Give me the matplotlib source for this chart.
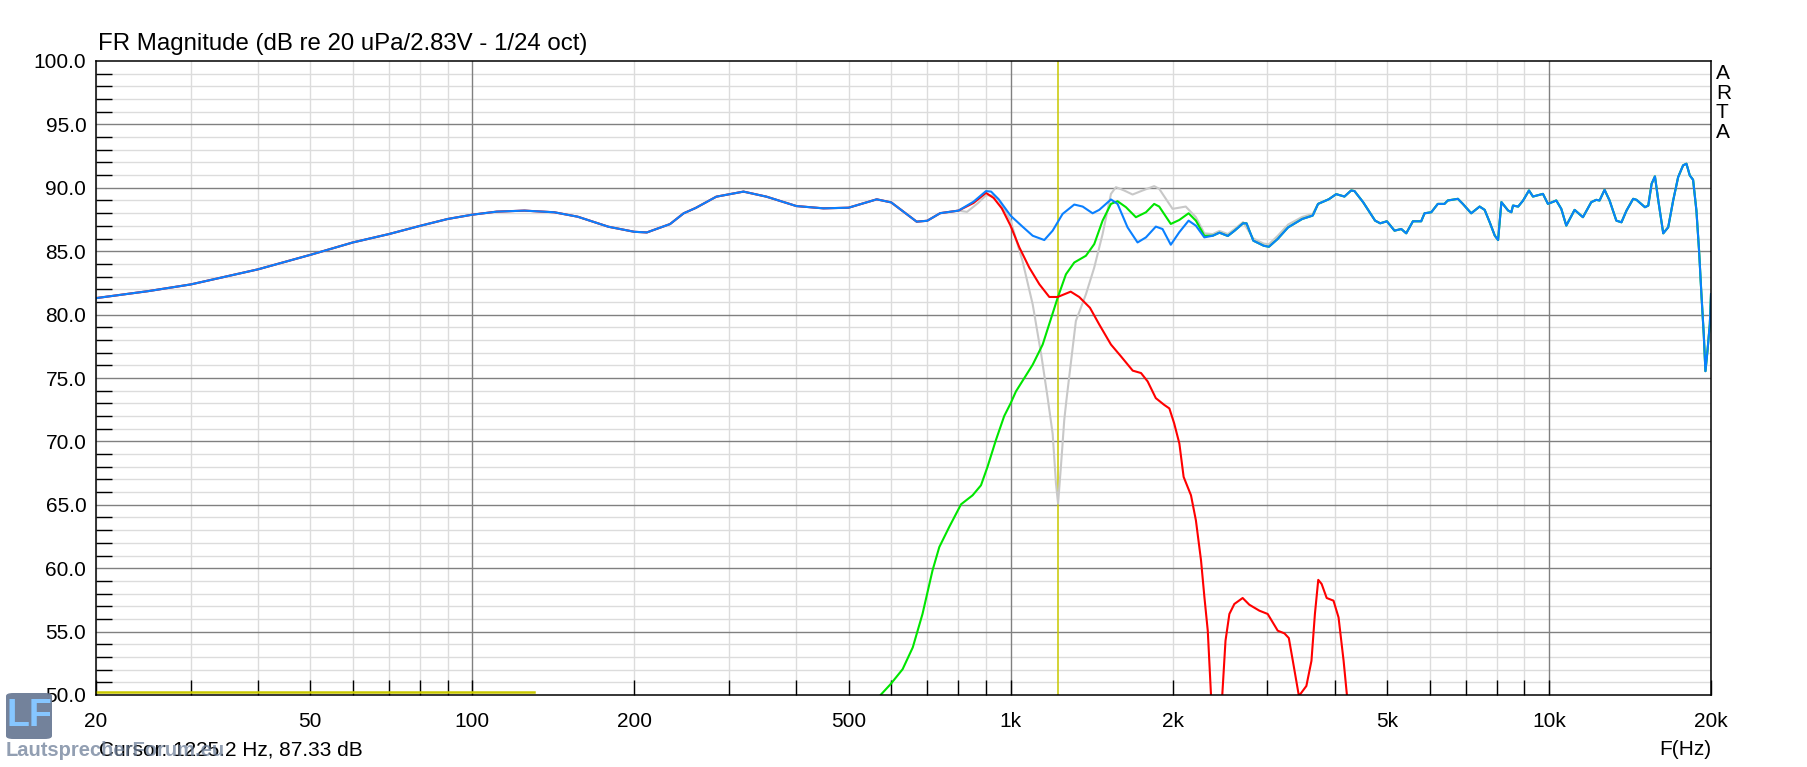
import matplotlib
matplotlib.use("Agg")
import matplotlib.pyplot as plt
from matplotlib.patches import FancyBboxPatch

plt.rcParams['font.family'] = ['Liberation Sans', 'DejaVu Sans']

#============================DATA===================================
# shared low end (woofer alone == sum)
lf_freq = [20, 25, 30, 40, 50, 60, 70, 80, 90, 100, 111, 125, 142, 157, 179, 200,
           211, 233, 247, 260, 284, 319, 352, 400, 449, 500, 564, 600, 669, 700, 740, 800]
lf_db = [81.3, 81.85, 82.38, 83.57, 84.71, 85.69, 86.35, 87.0, 87.54, 87.88, 88.12, 88.2,
         88.07, 87.72, 86.93, 86.53, 86.48, 87.14, 87.99, 88.41, 89.3, 89.7, 89.3, 88.56,
         88.38, 88.43, 89.09, 88.85, 87.33, 87.4, 88.0, 88.2]

# sum (blue) around crossover
sum_freq = [853, 900, 920, 950, 1000, 1052, 1099, 1155, 1197, 1249, 1313, 1361, 1420, 1461,
            1536, 1580, 1649, 1721, 1784, 1861, 1915, 1984, 2057, 2141, 2209, 2290]
sum_db = [88.9, 89.74, 89.7, 89.1, 87.8, 86.94, 86.22, 85.88, 86.62, 87.94, 88.68, 88.52,
          87.99, 88.26, 89.08, 88.73, 86.88, 85.69, 86.09, 86.94, 86.75, 85.51, 86.49,
          87.41, 87.01, 86.09]

# shared top end (tweeter alone == sum)
hf_freq = [2374, 2443, 2532, 2607, 2703, 2743, 2824, 2952, 3019, 3133, 3277, 3480, 3641,
           3725, 3901, 4025, 4170, 4291, 4353, 4516, 4754, 4859, 5000, 5166, 5318, 5431,
           5589, 5790, 5874, 6045, 6216, 6396, 6488, 6774, 6919, 7171, 7434, 7596, 7762,
           7932, 8045, 8160, 8396, 8515, 8575, 8767, 8954, 9181, 9339, 9747, 9957, 10319,
           10542, 10770, 11160, 11564, 11984, 12243, 12418, 12686, 12960, 13342, 13636,
           13936, 14337, 14544, 15077, 15294, 15514, 15736, 15963, 16305, 16655, 17012,
           17377, 17750, 18005, 18263, 18525, 18790, 19005, 19196, 19390, 19530, 19699,
           19899, 20000]
hf_db = [86.22, 86.46, 86.2, 86.62, 87.2, 87.2, 85.83, 85.43, 85.35, 85.96, 86.88, 87.54,
         87.81, 88.73, 89.1, 89.5, 89.31, 89.79, 89.74, 88.87, 87.41, 87.2, 87.36, 86.62,
         86.75, 86.41, 87.36, 87.36, 87.99, 88.07, 88.73, 88.73, 89.0, 89.13, 88.73, 87.99,
         88.52, 88.26, 87.28, 86.23, 85.88, 88.87, 88.21, 88.07, 88.6, 88.52, 89.0, 89.79,
         89.31, 89.52, 88.73, 89.0, 88.34, 87.02, 88.26, 87.68, 88.87, 89.05, 89.0, 89.84,
         89.0, 87.41, 87.28, 88.21, 89.13, 89.05, 88.47, 88.6, 90.32, 90.9, 89.0, 86.41,
         86.89, 89.0, 90.84, 91.77, 91.9, 90.98, 90.63, 88.21, 85.04, 81.61, 78.44, 75.54,
         77.12, 79.24, 81.61]

# woofer (red) above 800 Hz
wf_freq = [853, 900, 930, 963, 1000, 1038, 1083, 1131, 1180, 1223, 1293, 1341, 1404, 1461,
           1536, 1603, 1686, 1747, 1797, 1861, 1929, 1972, 2013, 2058, 2096, 2163, 2209,
           2258, 2291, 2324, 2357, 2400, 2450, 2472, 2507, 2549, 2604, 2698, 2776, 2898,
           3003, 3135, 3226, 3287, 3344, 3432, 3543, 3621, 3675, 3728, 3782, 3865, 3979,
           4066, 4155, 4216, 4300]
wf_db = [88.8, 89.6, 89.2, 88.38, 87.0, 85.3, 83.71, 82.39, 81.39, 81.39, 81.81, 81.39,
         80.54, 79.22, 77.64, 76.71, 75.58, 75.39, 74.73, 73.41, 72.88, 72.6, 71.42, 69.84,
         67.2, 65.75, 63.77, 60.61, 57.7, 55.07, 49.9, 44, 44, 49.9, 54.27, 56.39, 57.18,
         57.65, 57.12, 56.65, 56.39, 55.07, 54.86, 54.49, 52.69, 49.92, 50.71, 52.69, 56.39,
         59.08, 58.76, 57.65, 57.44, 56.12, 52.69, 49.92, 44]

# tweeter (green) below 2.3 kHz
tw_freq = [500, 571, 598, 630, 658, 686, 716, 737, 769, 809, 850, 881, 906, 939, 973, 1000,
           1023, 1099, 1147, 1223, 1267, 1313, 1380, 1430, 1482, 1536, 1580, 1638, 1709,
           1784, 1848, 1888, 1984, 2057, 2141, 2209, 2290]
tw_db = [44, 49.92, 50.84, 52.03, 53.75, 56.39, 59.82, 61.66, 63.25, 65.04, 65.75, 66.54,
         68.0, 70.1, 72.0, 73.0, 73.94, 76.05, 77.64, 81.33, 83.18, 84.11, 84.64, 85.56,
         87.41, 88.73, 88.94, 88.47, 87.68, 88.07, 88.73, 88.52, 87.15, 87.46, 87.99,
         87.41, 86.22]

# sum with reversed tweeter polarity (grey)
inv_freq = [830, 870, 900, 930, 952, 1000, 1052, 1099, 1140, 1172, 1197, 1214, 1225, 1240,
            1258, 1270, 1322, 1380, 1430, 1482, 1536, 1569, 1625, 1685, 1759, 1848, 1888,
            1999, 2115, 2209, 2290, 2374, 2443, 2532, 2607, 2703, 2824, 2952, 3019, 3133,
            3277, 3480, 3641]
inv_db = [88.1, 88.8, 89.4, 89.4, 89.0, 87.4, 84.24, 80.81, 76.84, 73.4, 70.6, 66.7, 65.1,
          68.0, 71.7, 73.3, 79.5, 81.6, 83.71, 86.35, 89.52, 90.05, 89.79, 89.47, 89.79,
          90.13, 89.92, 88.34, 88.52, 87.68, 86.41, 86.35, 86.6, 86.35, 86.75, 87.3, 86.0,
          85.6, 85.55, 86.2, 87.1, 87.7, 87.95]
inv_join = 13  # grey joins the shared top end at 3725 Hz

cursor_freq = 1225.2
cursor_db = 87.33
marker_end = 130  # yellow bar along the bottom

x_grid = [m * 10 ** k for k in range(1, 5) for m in range(1, 10) if 20 <= m * 10 ** k <= 20000]
x_labels = ["20", "50", "100", "200", "500", "1k", "2k", "5k", "10k", "20k"]
x_label_pos = [20, 50, 100, 200, 500, 1000, 2000, 5000, 10000, 20000]
y_major = list(range(50, 101, 5))
y_minor = [v for v in range(50, 101) if v % 5]

#============================FIGURE=================================
W, H = 1807, 767
fig = plt.figure(figsize=(W / 100, H / 100), dpi=100)
fig.patch.set_facecolor("white")
ax = fig.add_axes([96 / W, 72 / H, (1711 - 96) / W, (695 - 61) / H])
ax.set_xscale("log")
ax.set_xlim(20, 20000)
ax.set_ylim(50, 100)

# grid
for f in x_grid:
    dark = f in (100, 1000, 10000)
    ax.axvline(f, color="#808080" if dark else "#dcdcdc", lw=1.0, zorder=1 if dark else 0.5)
for v in range(51, 100):
    dark = v % 5 == 0
    ax.axhline(v, color="#808080" if dark else "#dcdcdc", lw=1.0, zorder=1 if dark else 0.5)

# ticks
ax.set_xticks(x_label_pos, labels=x_labels)
ax.set_xticks(x_grid, minor=True)
ax.xaxis.set_minor_formatter(plt.NullFormatter())
ax.tick_params(axis="x", which="both", direction="in", length=10.8, width=1.0,
               color="black", pad=12, labelsize=15, top=False)
ax.set_yticks(y_major, labels=["%.1f" % v for v in y_major])
ax.set_yticks(y_minor, minor=True)
ax.tick_params(axis="y", which="major", length=0, pad=7, labelsize=15)
ax.tick_params(axis="y", which="minor", direction="in", length=11.5, width=1.0,
               color="black", right=False)
for s in ax.spines.values():
    s.set_linewidth(1.1)
    s.set_zorder(10)

# cursor + marker
ax.axvline(cursor_freq, color="#c8c800", lw=1.1, zorder=2)
ax.plot([20, marker_end], [50.2, 50.2], color="#c8c800", lw=1.8, zorder=2, clip_on=False)

# curves
ax.plot(lf_freq + inv_freq + hf_freq[inv_join:], lf_db + inv_db + hf_db[inv_join:],
        color="#c8c8c8", lw=1.5, zorder=3)
ax.plot(tw_freq + hf_freq, tw_db + hf_db, color="#00e600", lw=1.5, zorder=4)
ax.plot(lf_freq + wf_freq, lf_db + wf_db, color="#ff0000", lw=1.5, zorder=5)
ax.plot(lf_freq + sum_freq + hf_freq, lf_db + sum_db + hf_db, color="#0a80ff", lw=1.5, zorder=6)

#============================TEXT===================================
fig.text(98 / W, 1 - 50 / H, "FR Magnitude (dB re 20 uPa/2.83V - 1/24 oct)",
         fontsize=17.3, va="baseline", ha="left")
fig.text(1716 / W, 1 - 64 / H, "A\nR\nT\nA", fontsize=15, va="top", ha="left",
         linespacing=1.05)
fig.text(1711 / W, 1 - 755 / H, "F(Hz)", fontsize=15, va="baseline", ha="right")
fig.text(99 / W, 1 - 756 / H, "Cursor: %.1f Hz, %.2f dB" % (cursor_freq, cursor_db),
         fontsize=15, va="baseline", ha="left", zorder=20)

# watermark logo (sits over the cursor line, as in the screenshot)
logo = FancyBboxPatch((6 / W, 1 - 739 / H), 46 / W, 46 / H,
                      boxstyle="round,pad=0,rounding_size=0.004",
                      transform=fig.transFigure, facecolor="#6b7b96", edgecolor="none",
                      alpha=0.95, zorder=21)
fig.patches.append(logo)
fig.text(29 / W, 1 - 716 / H, "LF", fontsize=27, fontweight="bold", color="#86c6ff",
         ha="center", va="center", zorder=22)
fig.text(6 / W, 1 - 756 / H, "LautsprecherForum.eu", fontsize=14.5, fontweight="bold",
         color="#6e7f99", alpha=0.75, va="baseline", ha="left", zorder=22)

fig.savefig("out.png", dpi=100, facecolor="white")
